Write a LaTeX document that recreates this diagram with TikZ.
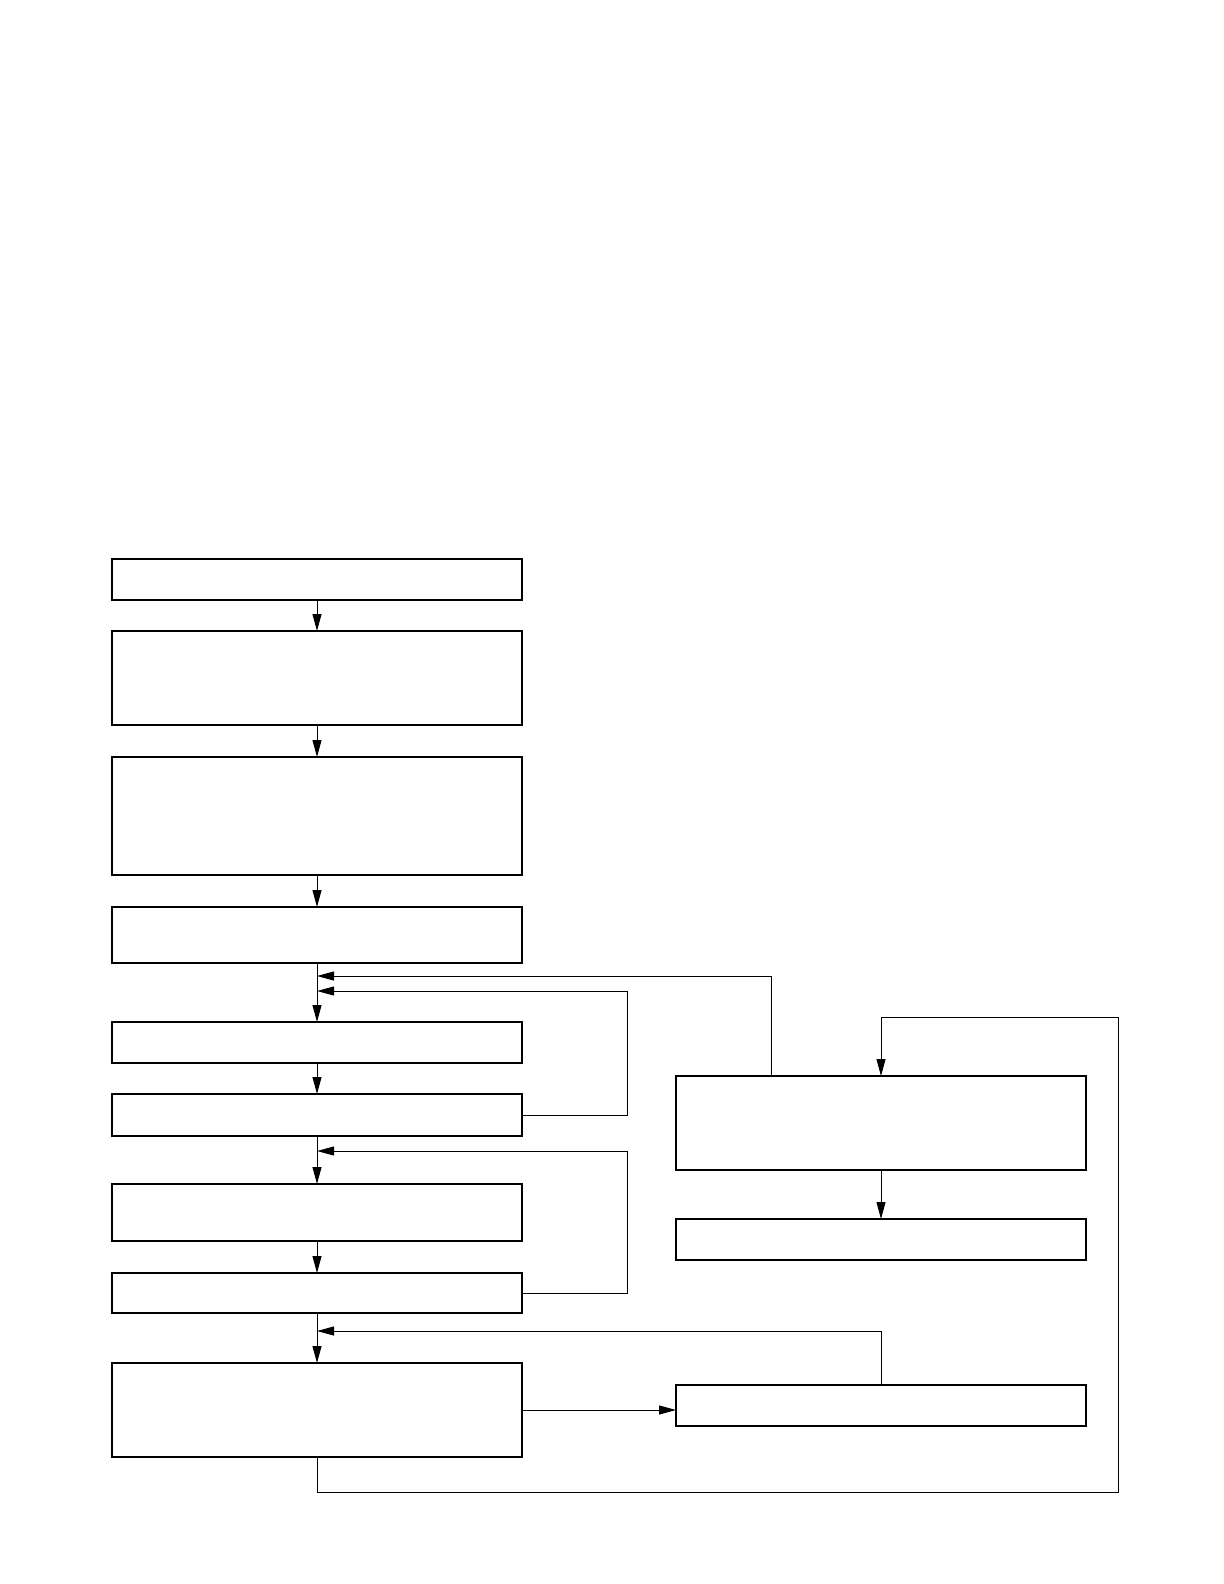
\documentclass[tikz,border=0pt]{standalone}
\usetikzlibrary{arrows.meta,positioning,calc}
\begin{document}
\begin{tikzpicture}[node distance=15pt,
	b/.style={draw, line width=1pt, minimum width=205pt, inner sep=0pt, outer sep=0pt},
	flow/.style={line width=0.5pt, -{Triangle[length=8.5pt,width=4.5pt]}}]
	\useasboundingbox (0,0) rectangle (612pt,-792pt);
	% main column
	\node[b, minimum height=20.5pt] (b1) at (158.5pt,-289.75pt) {};
	\node[b, minimum height=47pt, below=15.5pt of b1] (b2) {};
	\node[b, minimum height=59pt, below=16pt of b2] (b3) {};
	\node[b, minimum height=28pt, below=16pt of b3] (b4) {};
	\node[b, minimum height=20.5pt, below=29.5pt of b4] (b5) {};
	\node[b, minimum height=21pt, below=15.5pt of b5] (b6) {};
	\node[b, minimum height=28.5pt, below=24pt of b6] (b7) {};
	\node[b, minimum height=20pt, below=16pt of b7] (b8) {};
	\node[b, minimum height=47pt, below=25pt of b8] (b9) {};
	% right column
	\node[b, minimum height=47pt] (r1) at (440.5pt,-561.5pt) {};
	\node[b, minimum height=20.5pt, below=24.5pt of r1] (r2) {};
	\node[b, minimum height=20.5pt, below=62.5pt of r2] (r3) {};
	% junctions on the trunk
	\coordinate (j1) at ($(b4.south)+(0,-6.5pt)$);
	\coordinate (j2) at ($(b4.south)+(0,-14pt)$);
	\coordinate (j3) at ($(b6.south)+(0,-7.5pt)$);
	\coordinate (j4) at ($(b8.south)+(0,-9pt)$);
	\foreach \a/\c in {b1/b2, b2/b3, b3/b4, b4/b5, b5/b6, b6/b7, b7/b8, b8/b9, r1/r2} \draw[flow] (\a) -- (\c);
	\draw[flow] ($(r1.north west)+(47.5pt,0)$) |- (j1);
	\draw[flow] (b6.east) -- ++(52.5pt,0) |- (j2);
	\draw[flow] (b8.east) -- ++(52.5pt,0) |- (j3);
	\draw[flow] (r3.north) |- (j4);
	\draw[flow] (b9.east) -- (b9.east -| r3.west);
	\draw[flow] (b9.south) -- ++(0,-17.5pt) -| (559pt,-508.5pt) -| (r1.north);
\end{tikzpicture}
\end{document}
